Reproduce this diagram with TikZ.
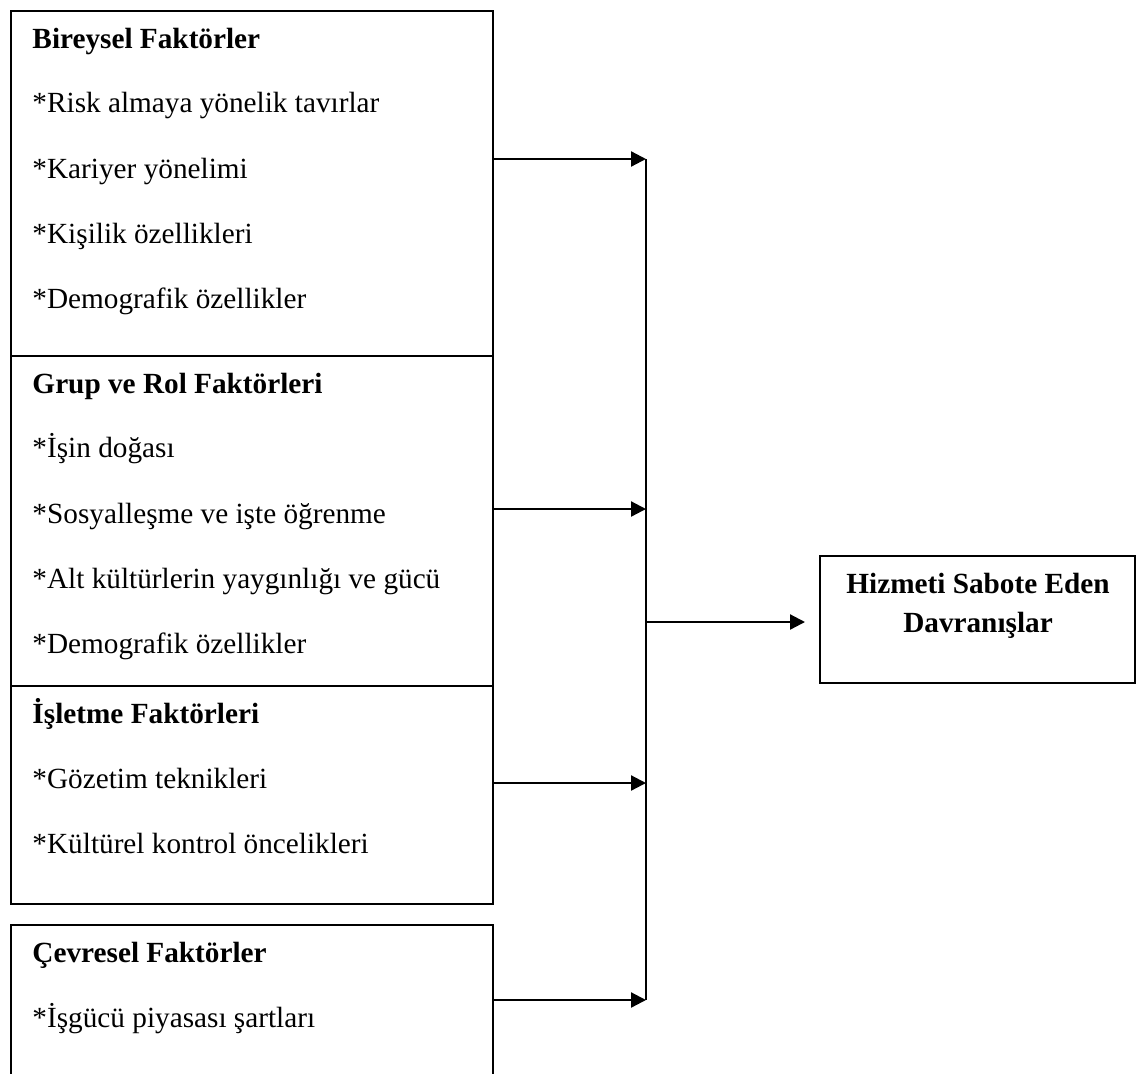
\documentclass[tikz,border=0pt]{standalone}
\usepackage{fontspec}
\setmainfont{Liberation Serif}
\usetikzlibrary{arrows.meta}
\begin{document}
\begin{tikzpicture}[x=0.4pt,y=-0.4pt,
  txt/.style={inner sep=0, font=\fontsize{11.7}{14}\selectfont},
  head/.style={txt, anchor=base west, font=\fontsize{11.7}{14}\selectfont\bfseries},
  item/.style={txt, anchor=base west},
  outhead/.style={txt, anchor=base, font=\fontsize{11.7}{14}\selectfont\bfseries},
  frame/.style={draw, line width=0.8pt, inner sep=0, anchor=north west, minimum width=192.8pt},
  outframe/.style={draw, line width=0.8pt, inner sep=0, anchor=north west, minimum width=126pt, minimum height=50.8pt},
  bus/.style={line width=0.9pt},
  arr/.style={line width=0.9pt, -{Triangle[length=6pt,width=6pt]}}]
\useasboundingbox (0,0) rectangle (1139,1073);
\clip (0,0) rectangle (1139,1073);

% factor boxes
\node[frame, minimum height=138pt]  (ind) at (10,10)  {};
\node[frame, minimum height=132pt]  (grp) at (10,355) {};
\node[frame, minimum height=87.2pt] (org) at (10,685) {};
\node[frame, minimum height=70pt]   (env) at (10,924) {};

% individual factors
\node[head] (indh) at (32,48)  {Bireysel Faktörler};
\node[item] (ind1) at (32,112) {*Risk almaya yönelik tavırlar};
\node[item] (ind2) at (32,178) {*Kariyer yönelimi};
\node[item] (ind3) at (32,243) {*Kişilik özellikleri};
\node[item] (ind4) at (32,308) {*Demografik özellikler};

% group and role factors
\node[head] (grph) at (32,393) {Grup ve Rol Faktörleri};
\node[item] (grp1) at (32,457) {*İşin doğası};
\node[item] (grp2) at (32,523) {*Sosyalleşme ve işte öğrenme};
\node[item] (grp3) at (32,588) {*Alt kültürlerin yaygınlığı ve gücü};
\node[item] (grp4) at (32,653) {*Demografik özellikler};

% organisational factors
\node[head] (orgh) at (32,723) {İşletme Faktörleri};
\node[item] (org1) at (32,788) {*Gözetim teknikleri};
\node[item] (org2) at (32,853) {*Kültürel kontrol öncelikleri};

% environmental factors
\node[head] (envh) at (32,962)  {Çevresel Faktörler};
\node[item] (env1) at (32,1027) {*İşgücü piyasası şartları};

% outcome box
\node[outframe] (out) at (819,555) {};
\node[outhead] (out1) at (978,593) {Hizmeti Sabote Eden};
\node[outhead] (out2) at (978,632) {Davranışlar};

% collecting bus
\coordinate (b1) at (646,159);
\coordinate (b2) at (646,509);
\coordinate (b3) at (646,783);
\coordinate (b4) at (646,1000);
\coordinate (bm) at (646,622);
\draw[bus] (b1) -- (b4);

\draw[arr] (ind.east |- b1) -- (b1);
\draw[arr] (grp.east |- b2) -- (b2);
\draw[arr] (org.east |- b3) -- (b3);
\draw[arr] (env.east |- b4) -- (b4);
\draw[arr] (bm) -- ([xshift=-5.6pt]out.west |- bm);
\end{tikzpicture}
\end{document}
